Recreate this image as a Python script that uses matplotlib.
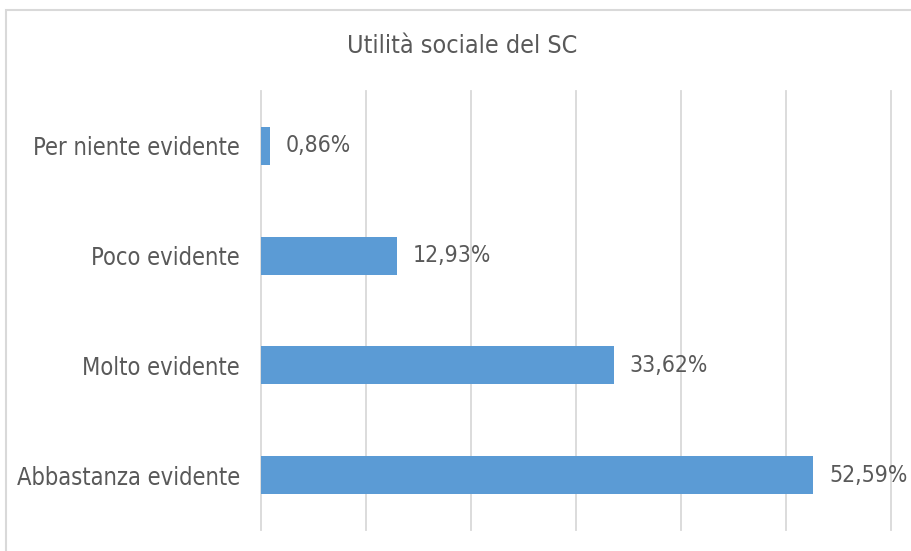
import matplotlib.pyplot as plt
from matplotlib.patches import Rectangle

categories = ["Per niente evidente", "Poco evidente", "Molto evidente", "Abbastanza evidente"]
values = [0.86, 12.93, 33.62, 52.59]
value_labels = ["0,86%", "12,93%", "33,62%", "52,59%"]

BAR = "#5B9BD5"
TEXT = "#595959"
GRID = "#D9D9D9"

plt.rcParams["font.family"] = ["DejaVu Sans"]

fig = plt.figure(figsize=(9.11, 5.51), dpi=100)
ax = fig.add_axes([261 / 911, 21 / 551, 630 / 911, 439 / 551])

ypos = list(range(len(categories)))
ax.barh(ypos, values, height=0.345, color=BAR, zorder=3)
ax.set_xlim(0, 60)
ax.set_ylim(len(categories) - 0.5, -0.5)
ax.set_xticks(range(0, 61, 10))
ax.xaxis.grid(True, color=GRID, linewidth=1.3)
for gl in ax.get_xgridlines():
    gl.set_clip_on(False)
ax.tick_params(axis="x", length=0, labelbottom=False)
ax.tick_params(axis="y", length=0, pad=15, labelsize=17, labelcolor=TEXT)
ax.set_yticks(ypos)
ax.set_yticklabels(categories, fontstretch="condensed")
for s in ax.spines.values():
    s.set_visible(False)

for y, v, lab in zip(ypos, values, value_labels):
    ax.text(v + 1.5, y, lab, va="center", ha="left", fontsize=16.5,
            color=TEXT, fontstretch="condensed")

fig.text(462 / 911, 1 - 46 / 551, "Utilità sociale del SC", ha="center",
         va="center", fontsize=18, color=TEXT, fontstretch="condensed")

# chart frame
fig.patches.append(Rectangle((6 / 911, -0.1), 1.0, 1 - 10 / 551 + 0.1,
                             transform=fig.transFigure, fill=False,
                             edgecolor="#D9D9D9", linewidth=1.5))

fig.savefig("out.png", dpi=100)
